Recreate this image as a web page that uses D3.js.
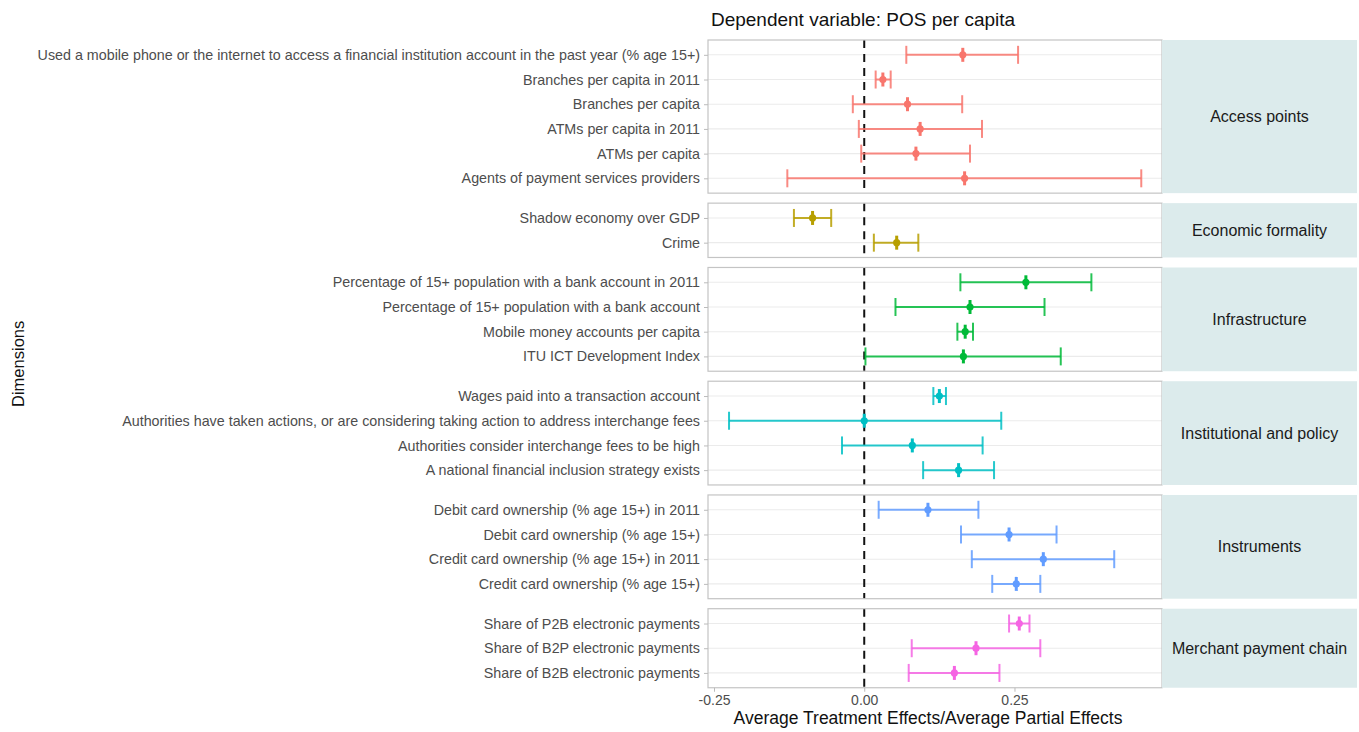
<!DOCTYPE html>
<html>
<head>
<meta charset="utf-8">
<script src="https://cdn.jsdelivr.net/npm/d3@7"></script>
<style>
  html, body { margin: 0; padding: 0; background: #fff; }
  svg { display: block; font-family: "Liberation Sans", Arial, sans-serif; }
</style>
</head>
<body>
<svg id="chart" width="1359" height="732"></svg>
<script>
// Facet groups, in drawing order (top to bottom)
const groups = ["Access points", "Economic formality", "Infrastructure",
                "Institutional and policy", "Instruments", "Merchant payment chain"];
const groupColors = ["#F8766D", "#B79F00", "#00BA38", "#00BFC4", "#619CFF", "#F564E3"];

// Variables per group (listed top to bottom within each panel)
const accessVars = [
  "Used a mobile phone or the internet to access a financial institution account in the past year (% age 15+)",
  "Branches per capita in 2011", "Branches per capita", "ATMs per capita in 2011",
  "ATMs per capita", "Agents of payment services providers"];
const accessEst = [0.164, 0.031, 0.072, 0.093, 0.086, 0.167];
const accessLo  = [0.070, 0.019, -0.019, -0.009, -0.005, -0.128];
const accessHi  = [0.256, 0.044, 0.163, 0.196, 0.176, 0.461];

const formalityVars = ["Shadow economy over GDP", "Crime"];
const formalityEst = [-0.086, 0.054];
const formalityLo  = [-0.117, 0.016];
const formalityHi  = [-0.055, 0.090];

const infraVars = ["Percentage of 15+ population with a bank account in 2011",
  "Percentage of 15+ population with a bank account",
  "Mobile money accounts per capita", "ITU ICT Development Index"];
const infraEst = [0.269, 0.176, 0.168, 0.165];
const infraLo  = [0.160, 0.052, 0.155, 0.002];
const infraHi  = [0.378, 0.300, 0.181, 0.327];

const policyVars = ["Wages paid into a transaction account",
  "Authorities have taken actions, or are considering taking action to address interchange fees",
  "Authorities consider interchange fees to be high",
  "A national financial inclusion strategy exists"];
const policyEst = [0.125, 0.000, 0.080, 0.157];
const policyLo  = [0.115, -0.225, -0.037, 0.098];
const policyHi  = [0.136, 0.228, 0.197, 0.216];

const instrVars = ["Debit card ownership (% age 15+) in 2011", "Debit card ownership (% age 15+)",
  "Credit card ownership (% age 15+) in 2011", "Credit card ownership (% age 15+)"];
const instrEst = [0.106, 0.241, 0.298, 0.253];
const instrLo  = [0.024, 0.161, 0.179, 0.213];
const instrHi  = [0.190, 0.320, 0.416, 0.293];

const merchantVars = ["Share of P2B electronic payments", "Share of B2P electronic payments",
  "Share of B2B electronic payments"];
const merchantEst = [0.258, 0.186, 0.150];
const merchantLo  = [0.241, 0.079, 0.074];
const merchantHi  = [0.275, 0.293, 0.225];

const xTicks = [-0.25, 0, 0.25];
const xTickLabels = ["-0.25", "0.00", "0.25"];

const panelData = [
  [accessVars, accessEst, accessLo, accessHi],
  [formalityVars, formalityEst, formalityLo, formalityHi],
  [infraVars, infraEst, infraLo, infraHi],
  [policyVars, policyEst, policyLo, policyHi],
  [instrVars, instrEst, instrLo, instrHi],
  [merchantVars, merchantEst, merchantLo, merchantHi]
].map(([vars, est, lo, hi], gi) => ({
  group: groups[gi],
  color: groupColors[gi],
  rows: vars.map((v, i) => ({ label: v, est: est[i], lo: lo[i], hi: hi[i] }))
}));

// Layout
const svg = d3.select("#chart");
const panelLeft = 708, panelRight = 1162, stripRight = 1357;
const panelTop = 40, gap = 10, unit = 24.7, pad = 0.6;

const x = d3.scaleLinear().domain([-0.26, 0.4955]).range([panelLeft, panelRight]);

// Title
svg.append("text")
  .attr("x", 863).attr("y", 26)
  .attr("text-anchor", "middle")
  .attr("font-size", 19).attr("fill", "#111")
  .text("Dependent variable: POS per capita");

let yCursor = panelTop;
panelData.forEach(p => {
  const n = p.rows.length;
  const h = (n - 1 + 2 * pad) * unit;
  const y = d3.scalePoint().domain(p.rows.map(r => r.label))
    .range([yCursor + pad * unit, yCursor + h - pad * unit]);

  const g = svg.append("g");

  // panel background and grid
  g.append("rect").attr("x", panelLeft).attr("y", yCursor)
    .attr("width", panelRight - panelLeft).attr("height", h)
    .attr("fill", "#fff");
  g.selectAll("line.grid").data(p.rows).join("line")
    .attr("x1", panelLeft).attr("x2", panelRight)
    .attr("y1", d => y(d.label)).attr("y2", d => y(d.label))
    .attr("stroke", "#ebebeb").attr("stroke-width", 1.1);

  // zero reference line
  g.append("line")
    .attr("x1", x(0)).attr("x2", x(0))
    .attr("y1", yCursor).attr("y2", yCursor + h)
    .attr("stroke", "#111").attr("stroke-width", 2)
    .attr("stroke-dasharray", "8,6");

  // error bars
  const eb = g.selectAll("g.eb").data(p.rows).join("g")
    .attr("stroke", p.color).attr("stroke-opacity", 0.85).attr("stroke-width", 2);
  eb.append("line")
    .attr("x1", d => x(d.lo)).attr("x2", d => x(d.hi))
    .attr("y1", d => y(d.label)).attr("y2", d => y(d.label));
  eb.append("line")
    .attr("x1", d => x(d.lo)).attr("x2", d => x(d.lo))
    .attr("y1", d => y(d.label) - 9).attr("y2", d => y(d.label) + 9);
  eb.append("line")
    .attr("x1", d => x(d.hi)).attr("x2", d => x(d.hi))
    .attr("y1", d => y(d.label) - 9).attr("y2", d => y(d.label) + 9);

  // point estimates
  const pt = g.selectAll("g.pt").data(p.rows).join("g");
  pt.append("line")
    .attr("x1", d => x(d.est)).attr("x2", d => x(d.est))
    .attr("y1", d => y(d.label) - 7).attr("y2", d => y(d.label) + 7)
    .attr("stroke", p.color).attr("stroke-width", 3);
  pt.append("circle")
    .attr("cx", d => x(d.est)).attr("cy", d => y(d.label)).attr("r", 3.6)
    .attr("fill", p.color);

  // panel border
  g.append("rect").attr("x", panelLeft).attr("y", yCursor)
    .attr("width", panelRight - panelLeft).attr("height", h)
    .attr("fill", "none").attr("stroke", "#c4c4c4").attr("stroke-width", 1.2);

  // y axis
  const ax = svg.append("g").attr("transform", `translate(${panelLeft},0)`)
    .call(d3.axisLeft(y).tickSize(4).tickPadding(4));
  ax.select(".domain").remove();
  ax.selectAll(".tick line").attr("stroke", "#bbb");
  ax.selectAll(".tick text").attr("font-size", 14.3).attr("fill", "#4d4d4d")
    .attr("font-family", "'Liberation Sans', Arial, sans-serif");

  // strip
  svg.append("rect").attr("x", panelRight).attr("y", yCursor)
    .attr("width", stripRight - panelRight).attr("height", h)
    .attr("fill", "#dcebec");
  svg.append("text")
    .attr("x", (panelRight + stripRight) / 2).attr("y", yCursor + h / 2)
    .attr("dy", "0.35em").attr("text-anchor", "middle")
    .attr("font-size", 16).attr("fill", "#1a1a1a")
    .text(p.group);

  yCursor += h + gap;
});

// x axis
const bottom = yCursor - gap;
const xa = svg.append("g").attr("transform", `translate(0,${bottom})`)
  .call(d3.axisBottom(x).tickValues(xTicks).tickFormat((d, i) => xTickLabels[i])
    .tickSize(4).tickPadding(3));
xa.select(".domain").remove();
xa.selectAll(".tick line").attr("stroke", "#bbb");
xa.selectAll(".tick text").attr("font-size", 14).attr("fill", "#4d4d4d")
  .attr("font-family", "'Liberation Sans', Arial, sans-serif");

svg.append("text")
  .attr("x", 928).attr("y", 724)
  .attr("text-anchor", "middle").attr("font-size", 17.5).attr("fill", "#111")
  .text("Average Treatment Effects/Average Partial Effects");

svg.append("text")
  .attr("transform", `translate(24,${(panelTop + bottom) / 2}) rotate(-90)`)
  .attr("text-anchor", "middle").attr("font-size", 16.5).attr("fill", "#111")
  .text("Dimensions");
</script>
</body>
</html>
